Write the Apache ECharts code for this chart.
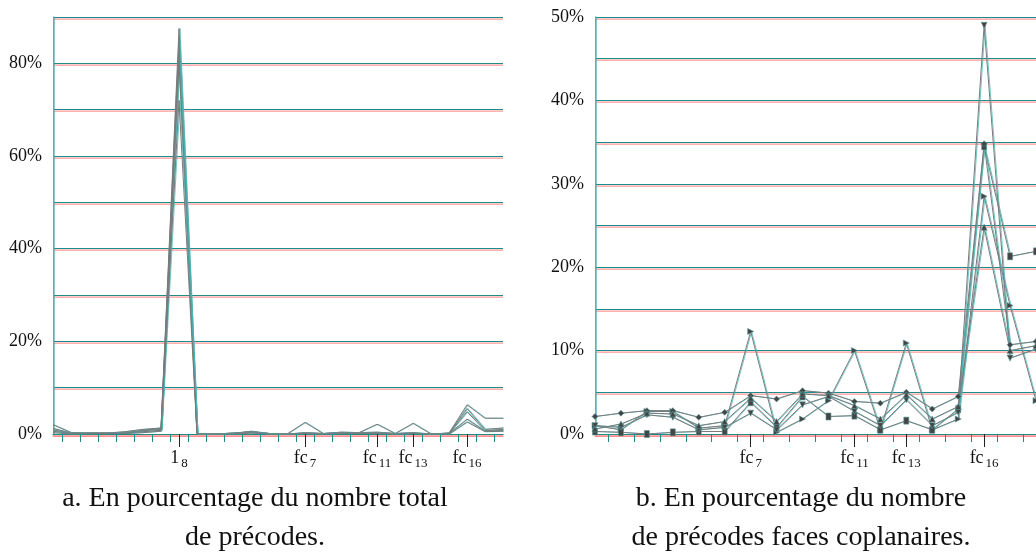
<!DOCTYPE html>
<html>
<head>
<meta charset="utf-8">
<script src="https://cdn.jsdelivr.net/npm/echarts@6/dist/echarts.min.js"></script>
<style>html,body{margin:0;padding:0;background:#fff}#c{width:1036px;height:552px}</style>
</head>
<body>
<div id="c"></div>
<script>
// ---------- data ----------
const leftCategories = ['1_1','1_2','1_3','1_4','1_5','1_6','1_7','1_8',
  'fc_1','fc_2','fc_3','fc_4','fc_5','fc_6','fc_7','fc_8','fc_9','fc_10',
  'fc_11','fc_12','fc_13','fc_14','fc_15','fc_16','fc_17','fc_18'];
const leftLabeled = ['1_8','fc_7','fc_11','fc_13','fc_16'];
const leftSeriesA = [2.0,0.3,0.2,0.2,0.3,0.8,1.2,87.5,0,0,0.2,0.5,0.1,0,2.5,0.1,0.4,0.3,2.1,0.1,2.3,0,0.2,6.3,3.4,3.4];
const leftSeriesB = [1.2,0.2,0.2,0.2,0.5,1.0,1.3,85.0,0,0,0.1,0.6,0.1,0,0.3,0.1,0.3,0.3,0.4,0.1,0.3,0,0.2,5.5,1.0,1.3];
const leftSeriesC = [0.9,0.1,0.2,0.2,0.2,0.7,1.0,82.0,0,0,0.2,0.4,0.1,0,0.2,0.1,0.2,0.2,0.3,0.1,0.2,0,0.1,4.8,0.7,1.0];
const leftSeriesD = [0.6,0.1,0.1,0.1,0.2,0.5,0.8,80.0,0,0,0.1,0.3,0.0,0,0.1,0.0,0.1,0.1,0.2,0.0,0.1,0,0.1,3.2,0.6,0.8];
const leftSeriesE = [0.3,0.0,0.1,0.1,0.1,0.3,0.6,72.0,0,0,0.0,0.2,0.0,0,0.1,0.0,0.1,0.1,0.1,0.0,0.1,0,0.0,2.6,0.5,0.6];
const leftYTicks = [0,20,40,60,80];

const rightCategories = ['fc_1','fc_2','fc_3','fc_4','fc_5','fc_6','fc_7','fc_8','fc_9',
  'fc_10','fc_11','fc_12','fc_13','fc_14','fc_15','fc_16','fc_17','fc_18'];
const rightLabeled = ['fc_7','fc_11','fc_13','fc_16'];
const rightRight = [1.0,0.5,2.7,2.7,0.7,1.0,12.3,0.2,1.8,4.0,10.0,0.5,10.9,0.5,1.8,28.5,15.4,4.0];
const rightSquare = [0.3,0.2,0.0,0.2,0.3,0.3,3.8,0.8,4.5,2.1,2.2,0.5,1.6,0.5,3.0,34.5,21.3,21.9];
const rightDiamond = [2.1,2.5,2.8,2.8,2.0,2.6,4.6,4.2,5.2,4.9,3.9,3.7,5.0,3.0,4.5,34.8,10.7,11.1];
const rightDown = [1.0,0.8,2.3,2.0,0.5,0.8,2.5,0.5,3.5,4.5,2.7,1.0,4.1,1.0,2.6,49.0,9.1,10.2];
const rightUp = [0.6,1.2,2.5,2.4,1.0,1.5,4.3,1.5,4.8,4.6,3.4,1.8,4.7,1.8,3.3,24.8,10.0,10.6];
const rightYTicks = [0,10,20,30,40,50];

const captionA = ['a. En pourcentage du nombre total', 'de précodes.'];
const captionB = ['b. En pourcentage du nombre', 'de précodes faces coplanaires.'];

// ---------- styles ----------
const SERIF = '"Liberation Serif","Times New Roman",serif';
const TEAL = '#1f8c8c';
const RED = 'rgba(255,110,110,0.7)';
const gridLineStyle = {color: TEAL, width: 1.2, shadowColor: RED, shadowOffsetY: 1.6, shadowBlur: 0};
const dataLineStyle = {color: '#7a7a7a', width: 1, shadowColor: 'rgba(70,180,180,0.75)', shadowOffsetX: 1, shadowBlur: 0};

function subLabel(name) {
  const p = name.split('_');
  return '{m|' + p[0] + '}{s|' + p[1] + '}';
}
const richLabel = {
  m: {fontFamily: SERIF, fontSize: 18, color: '#111', lineHeight: 20, verticalAlign: 'bottom', padding: [0, 2, 3, 0]},
  s: {fontFamily: SERIF, fontSize: 13, color: '#111', lineHeight: 14, verticalAlign: 'bottom', padding: [0, 0, 0, 0]}
};

function xAxesFor(gridIndex, cats, labeled) {
  const n = cats.length;
  const mids = [];
  for (let i = 0; i < n - 1; i++) mids.push(i + 0.5);
  const labIdx = labeled.map(l => cats.indexOf(l));
  return [
    {type: 'value', gridIndex, min: 0, max: n - 1, position: 'bottom',
      axisLine: {show: true, onZero: false, lineStyle: gridLineStyle},
      axisTick: {show: true, customValues: mids, length: 8, lineStyle: {color: TEAL, width: 1}},
      axisLabel: {show: false}, splitLine: {show: false}},
    {type: 'value', gridIndex, min: 0, max: n - 1, position: 'bottom',
      axisLine: {show: false},
      axisTick: {show: true, customValues: labIdx, length: 13, lineStyle: {color: '#222', width: 1}},
      axisLabel: {show: true, customValues: labIdx, margin: 16,
        formatter: v => subLabel(cats[Math.round(v)]), rich: richLabel},
      splitLine: {show: false}}
  ];
}

function yAxisFor(gridIndex, max, interval, labelTicks) {
  return {type: 'value', gridIndex, min: 0, max, interval,
    axisLine: {show: true, lineStyle: {color: '#e27a7a', width: 1, shadowColor: 'rgba(60,160,160,0.6)', shadowOffsetX: 1, shadowBlur: 0}},
    axisTick: {show: false},
    axisLabel: {margin: 11, fontFamily: SERIF, fontSize: 18, color: '#111',
      formatter: v => labelTicks.indexOf(v) >= 0 ? v + '%' : ''},
    splitLine: {show: true, lineStyle: gridLineStyle}};
}

const leftList = [leftSeriesA, leftSeriesB, leftSeriesC, leftSeriesD, leftSeriesE];
const series = [];
leftList.forEach(arr => {
  series.push({type: 'line', xAxisIndex: 0, yAxisIndex: 0, symbol: 'none',
    data: arr.map((v, i) => [i, v]), lineStyle: dataLineStyle, silent: true, animation: false});
});
const rightList = [
  {d: rightRight, sym: 'triangle', rot: -90},
  {d: rightSquare, sym: 'rect', rot: 0},
  {d: rightDiamond, sym: 'diamond', rot: 0},
  {d: rightDown, sym: 'triangle', rot: 180},
  {d: rightUp, sym: 'triangle', rot: 0}
];
rightList.forEach(s => {
  series.push({type: 'line', xAxisIndex: 2, yAxisIndex: 1, symbol: s.sym, symbolRotate: s.rot,
    symbolSize: s.sym === 'rect' ? [5, 7] : 6, showAllSymbol: true,
    itemStyle: {color: '#444', borderColor: '#5a9a9a', borderWidth: 0.6},
    data: s.d.map((v, i) => [i, v]), lineStyle: dataLineStyle, silent: true, animation: false});
});

function captionGraphics(lines, cx) {
  return lines.map((t, k) => ({type: 'text', x: cx, y: 499 + k * 39,
    style: {text: t, fontFamily: SERIF, fontSize: 28, fill: '#111', textAlign: 'center', textVerticalAlign: 'middle'}}));
}

const chart = echarts.init(document.getElementById('c'), null, {renderer: 'canvas'});
chart.setOption({
  backgroundColor: '#fff',
  animation: false,
  grid: [
    {left: 53, top: 17, width: 450, height: 417},
    {left: 595, top: 17, width: 451, height: 417}
  ],
  xAxis: xAxesFor(0, leftCategories, leftLabeled).concat(xAxesFor(1, rightCategories, rightLabeled)),
  yAxis: [yAxisFor(0, 90, 10, leftYTicks), yAxisFor(1, 50, 5, rightYTicks)],
  series,
  graphic: captionGraphics(captionA, 255).concat(captionGraphics(captionB, 801))
});
</script>
</body>
</html>
